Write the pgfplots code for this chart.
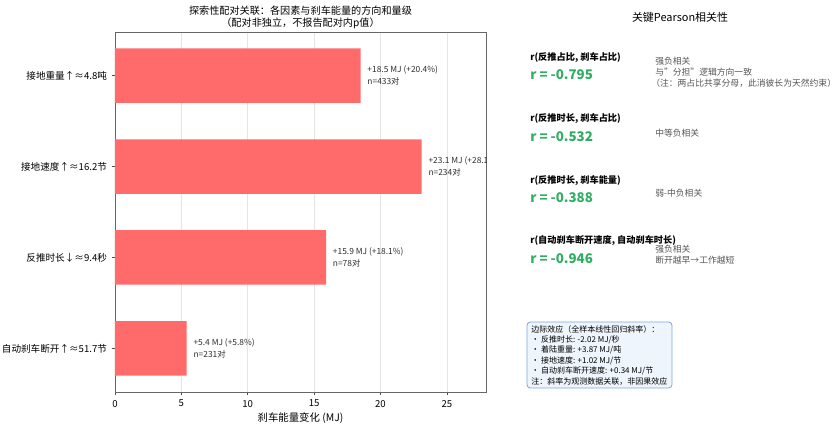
\documentclass[border=0pt]{standalone}
\usepackage{fontspec}
\setmainfont{Noto Sans CJK SC}
\usepackage{pgfplots}
\pgfplotsset{compat=1.18}

\definecolor{barred}{HTML}{FF6B6B}
\definecolor{rgreen}{HTML}{2EAE62}
\definecolor{notegray}{HTML}{555555}
\definecolor{boxfill}{HTML}{EEF5FC}
\definecolor{boxedge}{HTML}{7BA7D9}

% bar values (MJ), bottom to top
\pgfplotstableread{
y  val
0  5.4
1  15.9
2  23.1
3  18.5
}\bardata

\begin{document}
\begin{tikzpicture}[x=1pt,y=1pt]
\path[use as bounding box] (0,0) rectangle (630,321);

% ---- left: bar chart
\begin{axis}[
  at={(86.25pt,27pt)}, anchor=south west,
  scale only axis, width=278.25pt, height=270pt,
  xbar, bar width=0.6,
  xmin=0, xmax=27.95, ymin=-0.48, ymax=3.48,
  xtick={0,5,10,15,20,25},
  ytick={0,1,2,3},
  yticklabels={自动刹车断开↑≈51.7节, 反推时长↓≈9.4秒, 接地速度↑≈16.2节, 接地重量↑≈4.8吨},
  tick align=outside, xtick pos=bottom, ytick pos=left,
  major tick length=2.5pt,
  tick style={black!70, line width=0.5pt},
  ticklabel style={font=\fontsize{7.2}{8}\selectfont},
  /pgf/number format/assume math mode=true,
  xmajorgrids, grid style={black!10, line width=0.4pt},
  axis line style={black!60, line width=0.6pt},
  xlabel={刹车能量变化 (MJ)},
  xlabel style={font=\fontsize{7.8}{9}\selectfont, yshift=3pt},
  title={探索性配对关联：各因素与刹车能量的方向和量级\\（配对非独立，不报告配对内p值）},
  title style={align=center, font=\fontsize{7.6}{9}\selectfont, yshift=-7pt},
]
\addplot[fill=barred, draw=none] table[x=val, y=y] {\bardata};

\begin{scope}[every node/.style={anchor=west, align=left, text=black!82,
    inner sep=0pt, font=\fontsize{6.3}{8.8}\selectfont}]
\node at (axis cs:19.0,3) {+18.5 MJ (+20.4\%)\\n=433对};
\node at (axis cs:23.6,2) {+23.1 MJ (+28.1\%)\\n=234对};
\node at (axis cs:16.4,1) {+15.9 MJ (+18.1\%)\\n=78对};
\node at (axis cs:5.9,0) {+5.4 MJ (+5.8\%)\\n=231对};
\end{scope}
\end{axis}

% ---- right: Pearson panel (coordinates in reference pixels)
\begin{axis}[
  at={(390pt,0pt)}, anchor=south west,
  scale only axis, width=240pt, height=321pt,
  xmin=520, xmax=840, ymin=0, ymax=428, y dir=reverse,
  hide axis, clip=false,
]
\node[font=\fontsize{8.2}{9}\selectfont] at (axis cs:680,17) {关键Pearson相关性};

\begin{scope}[every node/.style={anchor=west, inner sep=0pt}]
\node[font=\fontsize{6.9}{8}\selectfont\bfseries] at (axis cs:530,58) {r(反推占比, 刹车占比)};
\node[font=\fontsize{10}{11}\selectfont\bfseries, text=rgreen] at (axis cs:530,75) {r = -0.795};
\node[font=\fontsize{6.6}{8.2}\selectfont, text=notegray, align=left] at (axis cs:651,72)
  {\hspace*{3pt}强负相关\\\hspace*{3pt}与"分担"逻辑方向一致\\（注：两占比共享分母，此消彼长为天然约束）};

\node[font=\fontsize{6.9}{8}\selectfont\bfseries] at (axis cs:530,119) {r(反推时长, 刹车占比)};
\node[font=\fontsize{10}{11}\selectfont\bfseries, text=rgreen] at (axis cs:530,137) {r = -0.532};
\node[font=\fontsize{6.6}{8.2}\selectfont, text=notegray] at (axis cs:655,133) {中等负相关};

\node[font=\fontsize{6.9}{8}\selectfont\bfseries] at (axis cs:530,181) {r(反推时长, 刹车能量)};
\node[font=\fontsize{10}{11}\selectfont\bfseries, text=rgreen] at (axis cs:530,198) {r = -0.388};
\node[font=\fontsize{6.6}{8.2}\selectfont, text=notegray] at (axis cs:655,193) {弱-中负相关};

\node[font=\fontsize{6.9}{8}\selectfont\bfseries] at (axis cs:530,241) {r(自动刹车断开速度, 自动刹车时长)};
\node[font=\fontsize{10}{11}\selectfont\bfseries, text=rgreen] at (axis cs:530,259) {r = -0.946};
\node[font=\fontsize{6.6}{8.2}\selectfont, text=notegray, align=left] at (axis cs:655,255)
  {强负相关\\断开越早→工作越短};
\end{scope}

\draw[boxedge, fill=boxfill, rounded corners=2.5pt, line width=0.6pt]
  (axis cs:527,322) rectangle (axis cs:672,388);
\node[anchor=north west, inner sep=0pt, align=left,
  font=\fontsize{6}{7.8}\selectfont] at (axis cs:531,325)
  {边际效应（全样本线性回归斜率）：\\
   • 反推时长: -2.02 MJ/秒\\
   • 着陆重量: +3.87 MJ/吨\\
   • 接地速度: +1.02 MJ/节\\
   • 自动刹车断开速度: +0.34 MJ/节\\
   注：斜率为观测数据关联，非因果效应};
\end{axis}
\end{tikzpicture}
\end{document}
